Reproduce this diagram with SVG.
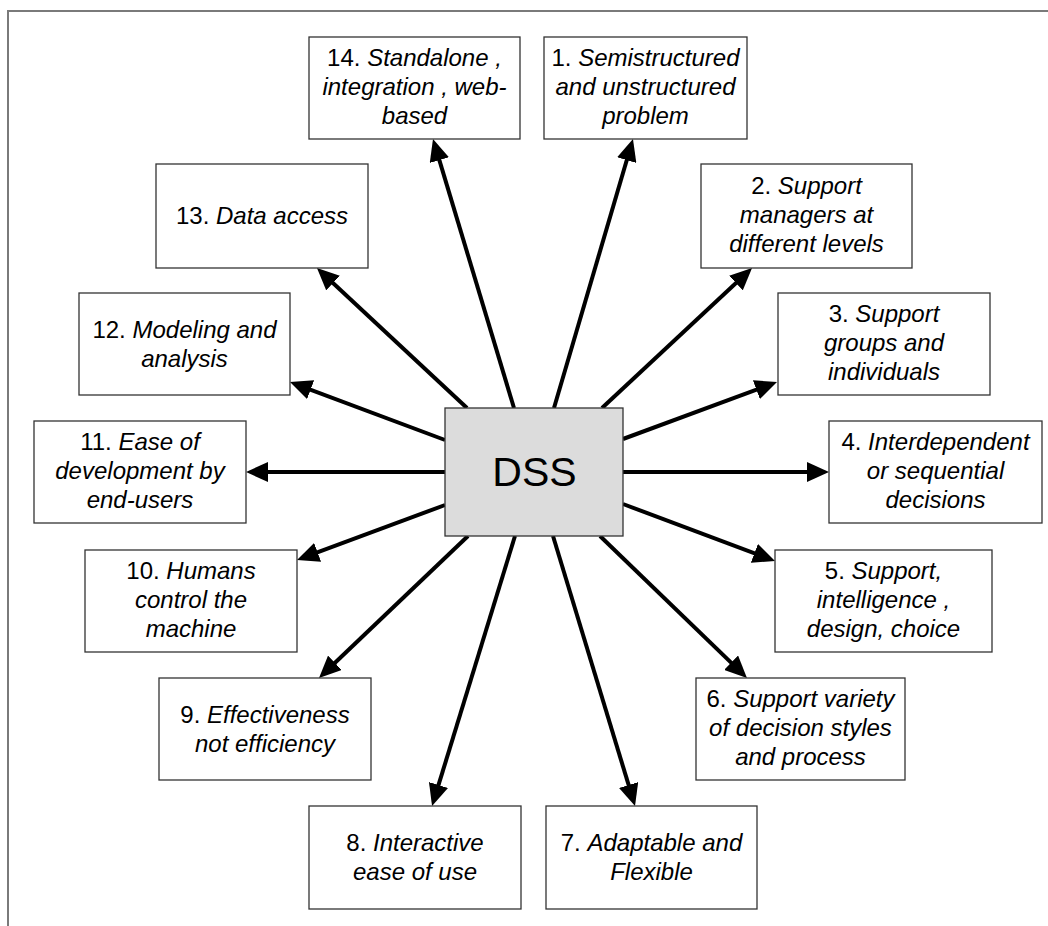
<svg xmlns="http://www.w3.org/2000/svg" width="1048" height="926" viewBox="0 0 1048 926">
  <defs>
    <marker id="head" markerUnits="userSpaceOnUse" markerWidth="22" markerHeight="20" refX="14" refY="10" orient="auto">
      <path d="M0,0 L22,10 L0,20 z" fill="#000"/>
    </marker>
    <style>
      .frame { fill: none; stroke: #7a7a7a; stroke-width: 2; }
      .box { fill: #fff; stroke: #333; stroke-width: 1.3; }
      .hub { fill: #dcdcdc; stroke: #333; stroke-width: 1.3; }
      .lbl { font-family: "Liberation Sans", Arial, sans-serif; font-size: 24px; fill: #000; text-anchor: middle; }
      .lbl .it { font-style: italic; }
      .hubtxt { font-family: "Liberation Sans", Arial, sans-serif; font-size: 41px; fill: #000; text-anchor: middle; }
      .conn line { stroke: #000; stroke-width: 4; marker-end: url(#head); }
    </style>
  </defs>

  <rect width="1048" height="926" fill="#fff"/>

  <!-- page frame -->
  <path class="frame" d="M8,926 L8,11 L1048,11"/>

  <!-- connectors from the hub to each feature -->
  <g id="connectors" class="conn">
    <line x1="514" y1="408" x2="435.3" y2="146.7"/>
    <line x1="554" y1="408" x2="630.7" y2="146.7"/>
    <line x1="467" y1="408" x2="322.8" y2="273.5"/>
    <line x1="602" y1="408" x2="746.2" y2="273.5"/>
    <line x1="445" y1="440" x2="297.5" y2="384.8"/>
    <line x1="623" y1="439" x2="769.5" y2="384.8"/>
    <line x1="445" y1="472" x2="254" y2="472"/>
    <line x1="623" y1="472" x2="821" y2="472"/>
    <line x1="445" y1="505" x2="304.5" y2="557.2"/>
    <line x1="623" y1="504" x2="767.5" y2="558.2"/>
    <line x1="468" y1="536" x2="324.8" y2="672.5"/>
    <line x1="600" y1="536" x2="741.2" y2="672.4"/>
    <line x1="515" y1="536" x2="434.4" y2="798.4"/>
    <line x1="553" y1="536" x2="632.7" y2="798.4"/>
  </g>

  <!-- hub -->
  <g id="dss">
    <rect class="hub" x="445" y="408" width="178" height="128"/>
    <text class="hubtxt" x="534.5" y="486">DSS</text>
  </g>

  <g id="n14">
    <rect class="box" x="309" y="37" width="211" height="102"/>
    <text class="lbl" x="414.5" y="66"><tspan>14. </tspan><tspan class="it">Standalone ,</tspan></text>
    <text class="lbl" x="414.5" y="95"><tspan class="it">integration , web-</tspan></text>
    <text class="lbl" x="414.5" y="124"><tspan class="it">based</tspan></text>
  </g>

  <g id="n1">
    <rect class="box" x="544" y="37" width="203" height="102"/>
    <text class="lbl" x="645.5" y="66"><tspan>1. </tspan><tspan class="it">Semistructured</tspan></text>
    <text class="lbl" x="645.5" y="95"><tspan class="it">and unstructured</tspan></text>
    <text class="lbl" x="645.5" y="124"><tspan class="it">problem</tspan></text>
  </g>

  <g id="n13">
    <rect class="box" x="156" y="164" width="212" height="104"/>
    <text class="lbl" x="262" y="224"><tspan>13. </tspan><tspan class="it">Data access</tspan></text>
  </g>

  <g id="n2">
    <rect class="box" x="701" y="164" width="211" height="104"/>
    <text class="lbl" x="806.5" y="194"><tspan>2. </tspan><tspan class="it">Support</tspan></text>
    <text class="lbl" x="806.5" y="223"><tspan class="it">managers at</tspan></text>
    <text class="lbl" x="806.5" y="252"><tspan class="it">different levels</tspan></text>
  </g>

  <g id="n12">
    <rect class="box" x="79" y="293" width="211" height="102"/>
    <text class="lbl" x="184.5" y="337.5"><tspan>12. </tspan><tspan class="it">Modeling and</tspan></text>
    <text class="lbl" x="184.5" y="366.5"><tspan class="it">analysis</tspan></text>
  </g>

  <g id="n3">
    <rect class="box" x="778" y="293" width="212" height="102"/>
    <text class="lbl" x="884" y="322"><tspan>3. </tspan><tspan class="it">Support</tspan></text>
    <text class="lbl" x="884" y="351"><tspan class="it">groups and</tspan></text>
    <text class="lbl" x="884" y="380"><tspan class="it">individuals</tspan></text>
  </g>

  <g id="n11">
    <rect class="box" x="34" y="421" width="212" height="102"/>
    <text class="lbl" x="140" y="450"><tspan>11. </tspan><tspan class="it">Ease of</tspan></text>
    <text class="lbl" x="140" y="479"><tspan class="it">development by</tspan></text>
    <text class="lbl" x="140" y="508"><tspan class="it">end-users</tspan></text>
  </g>

  <g id="n4">
    <rect class="box" x="829" y="421" width="213" height="102"/>
    <text class="lbl" x="935.5" y="450"><tspan>4. </tspan><tspan class="it">Interdependent</tspan></text>
    <text class="lbl" x="935.5" y="479"><tspan class="it">or sequential</tspan></text>
    <text class="lbl" x="935.5" y="508"><tspan class="it">decisions</tspan></text>
  </g>

  <g id="n10">
    <rect class="box" x="85" y="550" width="212" height="102"/>
    <text class="lbl" x="191" y="579"><tspan>10. </tspan><tspan class="it">Humans</tspan></text>
    <text class="lbl" x="191" y="608"><tspan class="it">control the</tspan></text>
    <text class="lbl" x="191" y="637"><tspan class="it">machine</tspan></text>
  </g>

  <g id="n5">
    <rect class="box" x="775" y="550" width="217" height="102"/>
    <text class="lbl" x="883.5" y="579"><tspan>5. </tspan><tspan class="it">Support,</tspan></text>
    <text class="lbl" x="883.5" y="608"><tspan class="it">intelligence ,</tspan></text>
    <text class="lbl" x="883.5" y="637"><tspan class="it">design, choice</tspan></text>
  </g>

  <g id="n9">
    <rect class="box" x="159" y="678" width="212" height="102"/>
    <text class="lbl" x="265" y="722.5"><tspan>9. </tspan><tspan class="it">Effectiveness</tspan></text>
    <text class="lbl" x="265" y="751.5"><tspan class="it">not efficiency</tspan></text>
  </g>

  <g id="n6">
    <rect class="box" x="696" y="678" width="209" height="102"/>
    <text class="lbl" x="800.5" y="707"><tspan>6. </tspan><tspan class="it">Support variety</tspan></text>
    <text class="lbl" x="800.5" y="736"><tspan class="it">of decision styles</tspan></text>
    <text class="lbl" x="800.5" y="765"><tspan class="it">and process</tspan></text>
  </g>

  <g id="n8">
    <rect class="box" x="309" y="806" width="212" height="103"/>
    <text class="lbl" x="415" y="851"><tspan>8. </tspan><tspan class="it">Interactive</tspan></text>
    <text class="lbl" x="415" y="880"><tspan class="it">ease of use</tspan></text>
  </g>

  <g id="n7">
    <rect class="box" x="546" y="806" width="211" height="103"/>
    <text class="lbl" x="651.5" y="851"><tspan>7. </tspan><tspan class="it">Adaptable and</tspan></text>
    <text class="lbl" x="651.5" y="880"><tspan class="it">Flexible</tspan></text>
  </g>
</svg>
